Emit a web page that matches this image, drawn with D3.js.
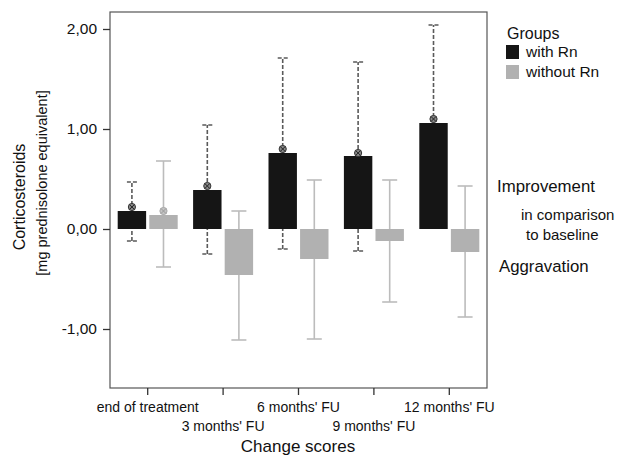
<!DOCTYPE html>
<html>
<head>
<meta charset="utf-8">
<script src="https://cdn.jsdelivr.net/npm/d3@7"></script>
<style>
  body { margin: 0; background: #fff; }
  svg { display: block; font-family: 'Liberation Sans', Arial, sans-serif; }
</style>
</head>
<body>
<svg id="chart" width="625" height="456"></svg>
<script>
const categories = ['end of treatment', "3 months' FU", "6 months' FU", "9 months' FU", "12 months' FU"]
const groups = ['with Rn', 'without Rn']

// bar height, mean marker and whisker ends per time point
const withRnBar = [0.18, 0.39, 0.76, 0.73, 1.06]
const withRnMean = [0.22, 0.43, 0.80, 0.76, 1.10]
const withRnLow = [-0.12, -0.25, -0.20, -0.22, 0.16]
const withRnHigh = [0.47, 1.04, 1.71, 1.67, 2.04]

const withoutRnBar = [0.14, -0.46, -0.30, -0.12, -0.23]
const withoutRnMean = [0.18, -0.40, -0.24, -0.06, -0.17]
const withoutRnLow = [-0.38, -1.11, -1.10, -0.73, -0.88]
const withoutRnHigh = [0.68, 0.18, 0.49, 0.49, 0.43]

const yTicks = [-1, 0, 1, 2]

class ChangeChart {

    constructor (svg, options) {
        this.svg = d3.select(svg)

        this.opts = Object.assign({
            left: 110, right: 487, top: 12, bottom: 388,
            colors: ['#151515', '#b1b1b1'],
            whisker: ['#5a5a5a', '#bcbcbc']
        }, options)

        this.rows = categories.map((c, i) => ([
            { cat: c, group: groups[0], bar: withRnBar[i], mean: withRnMean[i], low: withRnLow[i], high: withRnHigh[i] },
            { cat: c, group: groups[1], bar: withoutRnBar[i], mean: withoutRnMean[i], low: withoutRnLow[i], high: withoutRnHigh[i] }
        ])).flat()
    }

    get xScale () {
        return d3.scaleBand().domain(categories).range([this.opts.left, this.opts.right]).padding(0)
    }

    get groupScale () {
        return d3.scaleBand().domain(groups).range([-30, 30]).paddingInner(0.1)
    }

    get yScale () {
        return d3.scaleLinear().domain([-1.59, 2.17]).range([this.opts.bottom, this.opts.top])
    }

    get fmt () {
        return d3.formatLocale({ decimal: ',', thousands: '.', grouping: [3], currency: ['', ''], minus: '-' }).format('.2f')
    }

    cx (d) {
        return this.xScale(d.cat) + this.xScale.bandwidth() / 2 + this.groupScale(d.group) + this.groupScale.bandwidth() / 2
    }

    marker (sel) {
        const dark = d => d.group === groups[0]
        sel.attr('transform', d => this.t(this.cx(d), this.yScale(d.mean)))
        sel.append('circle').attr('r', 3.6)
            .attr('fill', d => dark(d) ? '#888' : '#c4c4c4')
            .attr('stroke', d => dark(d) ? '#333' : '#a9a9a9')
            .attr('stroke-width', 1)
        sel.append('path').attr('d', 'M-2.5,-2.5L2.5,2.5M-2.5,2.5L2.5,-2.5')
            .attr('stroke', d => dark(d) ? '#222' : '#9a9a9a')
            .attr('stroke-width', 1)
    }

    render () {
        const o = this.opts
        const x = this.xScale
        const g = this.groupScale
        const y = this.yScale
        const color = d3.scaleOrdinal().domain(groups).range(o.colors)
        const wcolor = d3.scaleOrdinal().domain(groups).range(o.whisker)

        // frame
        this.svg.append('rect')
            .attr('x', o.left).attr('y', o.top)
            .attr('width', o.right - o.left).attr('height', o.bottom - o.top)
            .attr('fill', 'none').attr('stroke', '#555').attr('stroke-width', 1.2)

        // y axis
        const yAxis = this.svg.append('g')
            .attr('transform', this.t(o.left, 0))
            .call(d3.axisLeft(y).tickValues(yTicks).tickSize(7).tickPadding(6).tickFormat(this.fmt))
        yAxis.select('.domain').remove()
        yAxis.selectAll('line').attr('stroke', '#333').attr('stroke-width', 1.3)
        yAxis.selectAll('text').attr('font-size', 15.5).attr('fill', '#111').attr('font-family', null)

        // x axis, labels staggered on two rows
        const xAxis = this.svg.append('g')
            .attr('transform', this.t(0, o.bottom))
            .call(d3.axisBottom(x).tickSize(7).tickPadding(0))
        xAxis.select('.domain').remove()
        xAxis.selectAll('line').attr('stroke', '#333').attr('stroke-width', 1.3)
        xAxis.selectAll('text')
            .attr('font-size', 14).attr('fill', '#111').attr('font-family', null)
            .attr('y', (d, i) => i % 2 ? 33 : 14)

        const plot = this.svg.append('g')

        // whiskers sit behind the bars
        const err = plot.selectAll('.err').data(this.rows).join('g').attr('class', 'err')
        err.append('line')
            .attr('x1', d => this.cx(d)).attr('x2', d => this.cx(d))
            .attr('y1', d => y(d.low)).attr('y2', d => y(d.high))
            .attr('stroke', d => wcolor(d.group))
            .attr('stroke-width', 1.6)
            .attr('stroke-dasharray', d => d.group === groups[0] ? '4,2' : null)
        err.selectAll('.cap').data(d => [[d, d.low], [d, d.high]]).join('line')
            .attr('class', 'cap')
            .attr('x1', ([d]) => this.cx(d) - (d.group === groups[0] ? 5 : 7.5))
            .attr('x2', ([d]) => this.cx(d) + (d.group === groups[0] ? 5 : 7.5))
            .attr('y1', ([, v]) => y(v)).attr('y2', ([, v]) => y(v))
            .attr('stroke', ([d]) => wcolor(d.group))
            .attr('stroke-width', 1.6)
            .attr('stroke-dasharray', ([d]) => d.group === groups[0] ? '4,2' : null)

        // grey group means are drawn under the bars, so only the part above a bar shows
        plot.selectAll('.mean-lo').data(this.rows.filter(d => d.group === groups[1])).join('g')
            .attr('class', 'mean-lo')
            .call(s => this.marker(s))

        plot.selectAll('.bar').data(this.rows).join('rect')
            .attr('class', 'bar')
            .attr('x', d => x(d.cat) + x.bandwidth() / 2 + g(d.group))
            .attr('width', g.bandwidth())
            .attr('y', d => y(Math.max(0, d.bar)))
            .attr('height', d => Math.abs(y(d.bar) - y(0)))
            .attr('fill', d => color(d.group))

        plot.selectAll('.mean-hi').data(this.rows.filter(d => d.group === groups[0])).join('g')
            .attr('class', 'mean-hi')
            .call(s => this.marker(s))

        // axis titles
        this.svg.append('text')
            .attr('transform', this.t(25, 197) + ' rotate(-90)')
            .attr('text-anchor', 'middle').attr('font-size', 16).attr('fill', '#111')
            .text('Corticosteroids')
        this.svg.append('text')
            .attr('transform', this.t(47, 183) + ' rotate(-90)')
            .attr('text-anchor', 'middle').attr('font-size', 14.5).attr('fill', '#111')
            .text('[mg prednisolone equivalent]')
        this.svg.append('text')
            .attr('x', 298).attr('y', 452)
            .attr('text-anchor', 'middle').attr('font-size', 17).attr('fill', '#111')
            .text('Change scores')

        // legend
        const legend = this.svg.append('g').attr('transform', this.t(506, 0))
        legend.append('text').attr('x', 1).attr('y', 39).attr('font-size', 16).attr('fill', '#111').text('Groups')
        const item = legend.selectAll('.item').data(groups).join('g')
            .attr('class', 'item')
            .attr('transform', (d, i) => this.t(0, 45 + i * 20))
        item.append('rect').attr('width', 13).attr('height', 14).attr('fill', d => color(d))
        item.append('text').attr('x', 20).attr('y', 12).attr('font-size', 15.5).attr('fill', '#111').text(d => d)

        const notes = [
            ['Improvement', 497, 192, 16.8],
            ['in comparison', 521, 220, 15],
            ['to baseline', 526, 240, 15],
            ['Aggravation', 499, 272, 16.8]
        ]
        this.svg.selectAll('.note').data(notes).join('text')
            .attr('class', 'note')
            .attr('x', d => d[1]).attr('y', d => d[2])
            .attr('font-size', d => d[3]).attr('fill', '#111')
            .text(d => d[0])
    }

    t (a, b) {
        if (b === undefined) {
            b = a
        }
        return `translate(${a}, ${b})`
    }
}

new ChangeChart('#chart').render()
</script>
</body>
</html>
